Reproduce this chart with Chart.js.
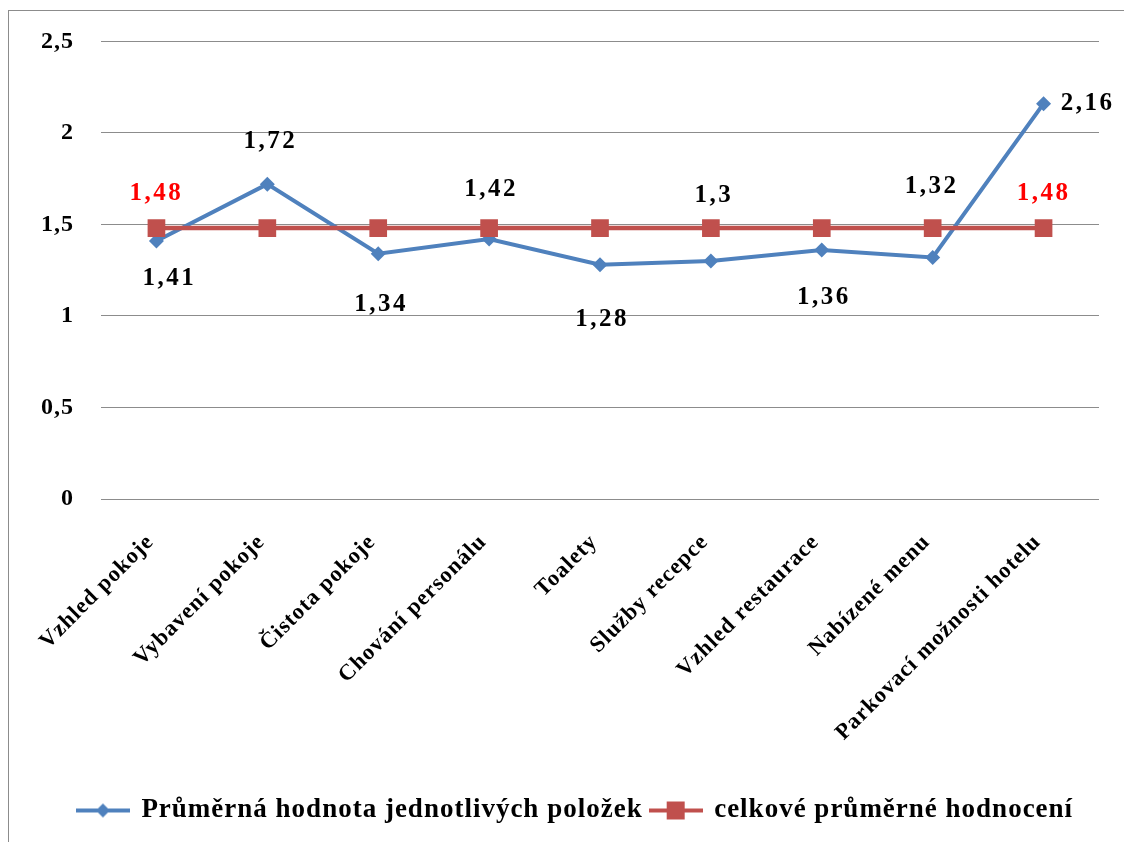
<!DOCTYPE html>
<html>
<head>
<meta charset="utf-8">
<script src="https://cdn.jsdelivr.net/npm/chart.js@4/dist/chart.umd.min.js"></script>
<style>
    body { margin: 0; background: #fff; }
    #frame {
        position: absolute; left: 8px; top: 10px;
        width: 1130px; height: 840px;
        border: 1px solid #8c8c8c;
    }
    #wrap { position: absolute; left: 0; top: 0; width: 1124px; height: 842px; }
</style>
</head>
<body>
<div id="frame"></div>
<div id="wrap"><canvas id="chart"></canvas></div>
<script>
// Data
const categories = [
    'Vzhled pokoje', 'Vybavení pokoje', 'Čistota pokoje', 'Chování personálu',
    'Toalety', 'Služby recepce', 'Vzhled restaurace', 'Nabízené menu',
    'Parkovací možnosti hotelu'
];
const itemAverages = [1.41, 1.72, 1.34, 1.42, 1.28, 1.3, 1.36, 1.32, 2.16];
const overallAverage = [1.48, 1.48, 1.48, 1.48, 1.48, 1.48, 1.48, 1.48, 1.48];
const yTicks = [0, 0.5, 1, 1.5, 2, 2.5];

const seriesNames = ['Průměrná hodnota jednotlivých položek', 'celkové průměrné hodnocení'];

// Label placement (pixel offsets from the point), styling only
const blueLabelOffsets = [[13, 38], [3, -43], [3, 51], [2, -50], [2, 55], [3, -66], [2, 47], [-1, -71], [44, 0]];
const redLabelShown = [true, false, false, false, false, false, false, false, true];

const BLUE = '#4f81bd';
const RED = '#c0504d';
const FONT = '"Liberation Serif", "Times New Roman", serif';

const fmt = v => String(v).replace('.', ',');

// Legend swatches: a short line with the series marker
function legendSwatch(color, shape) {
    const c = document.createElement('canvas');
    c.width = 54; c.height = 20;
    const g = c.getContext('2d');
    g.strokeStyle = color;
    g.lineWidth = 4;
    g.beginPath(); g.moveTo(0, 10); g.lineTo(54, 10); g.stroke();
    g.fillStyle = color;
    g.beginPath();
    if (shape === 'diamond') {
        g.moveTo(27, 3); g.lineTo(34, 10); g.lineTo(27, 17); g.lineTo(20, 10);
    } else {
        g.rect(18, 1, 18, 18);
    }
    g.fill();
    return c;
}

// Wider glyph spacing, like the reference rendering
const spacing = {
    id: 'spacing',
    beforeUpdate(chart) { chart.ctx.letterSpacing = '1px'; },
    beforeLayout(chart) { chart.ctx.letterSpacing = '1px'; },
    beforeDraw(chart) { chart.ctx.letterSpacing = '1px'; },
    afterLayout(chart) {
        // legend sits a little right of centre in the reference
        chart.legend.left += 22;
        chart.legend.right += 22;
    }
};

const dataLabels = {
    id: 'dataLabels',
    afterDatasetsDraw(chart) {
        const ctx = chart.ctx;
        ctx.save();
        ctx.font = 'bold 25px ' + FONT;
        ctx.letterSpacing = '2.5px';
        ctx.textAlign = 'center';
        ctx.textBaseline = 'middle';

        const blue = chart.getDatasetMeta(0).data;
        ctx.fillStyle = '#000';
        blue.forEach((pt, i) => {
            const [dx, dy] = blueLabelOffsets[i];
            ctx.fillText(fmt(itemAverages[i]), pt.x + dx, pt.y + dy);
        });

        const red = chart.getDatasetMeta(1).data;
        ctx.fillStyle = '#ff0000';
        red.forEach((pt, i) => {
            if (redLabelShown[i]) ctx.fillText(fmt(overallAverage[i]), pt.x, pt.y - 35);
        });
        ctx.restore();
    }
};

new Chart(document.getElementById('chart').getContext('2d'), {
    type: 'line',
    data: {
        labels: categories,
        datasets: [{
            label: seriesNames[0],
            data: itemAverages,
            borderColor: BLUE,
            backgroundColor: BLUE,
            borderWidth: 4,
            pointStyle: 'rectRot',
            pointRadius: 7.5,
            pointBorderWidth: 0,
            tension: 0,
            order: 1
        }, {
            label: seriesNames[1],
            data: overallAverage,
            borderColor: RED,
            backgroundColor: RED,
            borderWidth: 4.5,
            pointStyle: 'rect',
            pointRadius: 12.5,
            pointBorderWidth: 0,
            tension: 0,
            order: 0
        }]
    },
    options: {
        responsive: true,
        maintainAspectRatio: false,
        animation: false,
        layout: { padding: { left: 8, right: 25, top: 40, bottom: 8 } },
        plugins: {
            tooltip: { enabled: false },
            legend: {
                position: 'bottom',
                labels: {
                    color: '#000',
                    font: { family: FONT, size: 27, weight: 'bold' },
                    usePointStyle: true,
                    pointStyleWidth: 50,
                    padding: 8,
                    generateLabels(chart) {
                        return chart.data.datasets.map((ds, i) => ({
                            text: ds.label,
                            pointStyle: legendSwatch(ds.borderColor, i === 0 ? 'diamond' : 'square'),
                            fillStyle: ds.borderColor,
                            strokeStyle: ds.borderColor,
                            lineWidth: 0,
                            hidden: false,
                            datasetIndex: i,
                            fontColor: '#000'
                        }));
                    }
                }
            }
        },
        scales: {
            x: {
                offset: true,
                grid: { display: false },
                border: { display: false },
                ticks: {
                    color: '#000',
                    font: { family: FONT, size: 22.5, weight: 'bold' },
                    minRotation: 45,
                    maxRotation: 45,
                    padding: 22,
                    labelOffset: -6
                },
                afterFit(scale) { scale.height = 290; }
            },
            y: {
                min: 0,
                max: 2.5,
                afterBuildTicks(scale) { scale.ticks = yTicks.map(v => ({ value: v })); },
                grid: { color: '#8c8c8c', lineWidth: 1, drawTicks: false },
                border: { display: false },
                ticks: {
                    color: '#000',
                    font: { family: FONT, size: 24, weight: 'bold' },
                    padding: 27,
                    callback: v => fmt(v)
                },
                afterFit(scale) { scale.width = 93; }
            }
        }
    },
    plugins: [spacing, dataLabels]
});
</script>
</body>
</html>
